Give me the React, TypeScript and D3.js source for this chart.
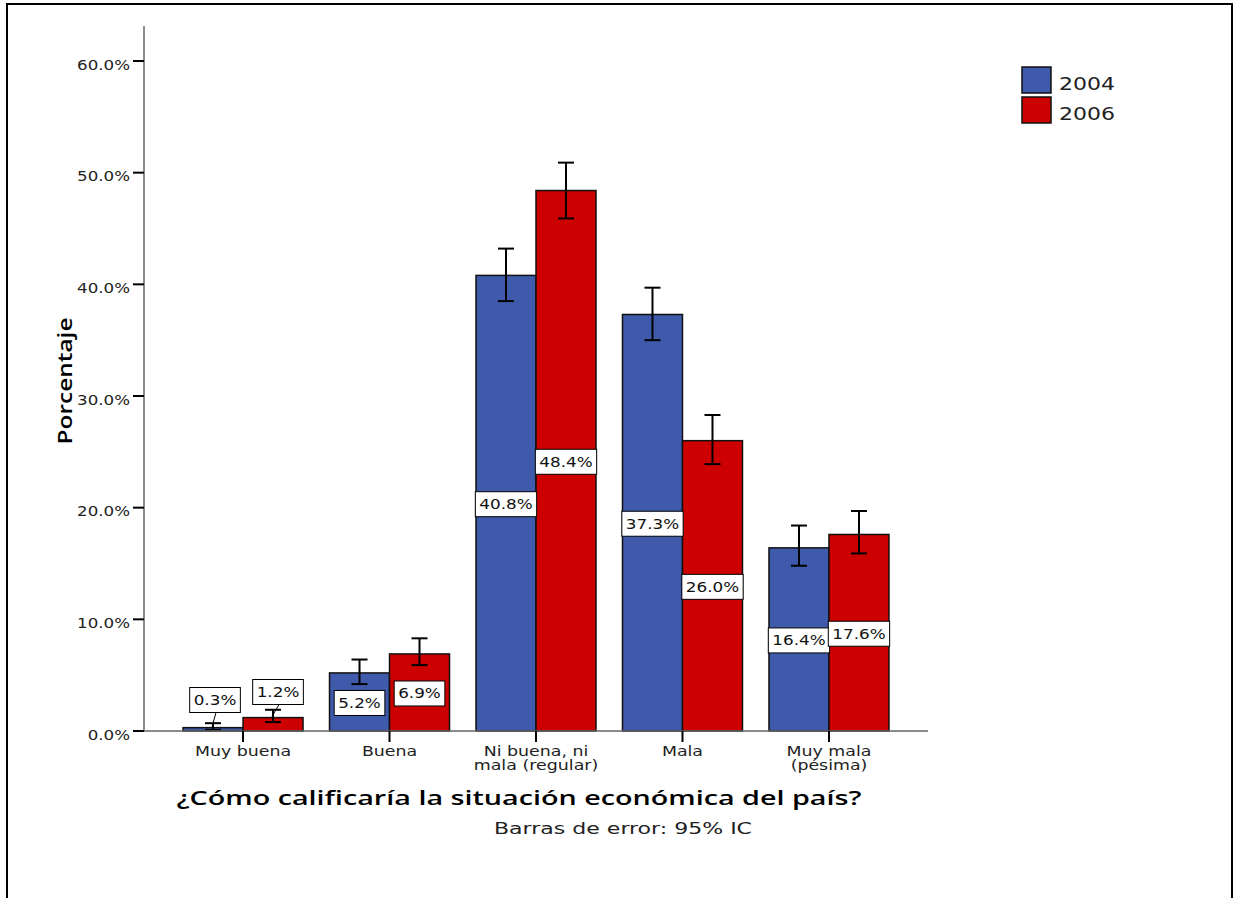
import React from "react";
import * as d3 from "d3";

const categories = ["Muy buena", "Buena", "Ni buena, ni\nmala (regular)", "Mala", "Muy mala\n(pésima)"];
const seriesNames = ["2004", "2006"];
const values2004 = [0.3, 5.2, 40.8, 37.3, 16.4];
const values2006 = [1.2, 6.9, 48.4, 26.0, 17.6];
const ciLow2004 = [0.1, 4.2, 38.5, 35.0, 14.8];
const ciHigh2004 = [0.7, 6.4, 43.2, 39.7, 18.4];
const ciLow2006 = [0.8, 5.9, 45.9, 23.9, 15.9];
const ciHigh2006 = [1.9, 8.3, 50.9, 28.3, 19.7];
const yTicks = [0, 10, 20, 30, 40, 50, 60];
const colors = ["#3F5AAB", "#CC0000"];

const FONT = "'DejaVu Sans', Verdana, sans-serif";
const TFONT = "'Open Sans', 'DejaVu Sans', sans-serif";

const CW: Record<string, number> = {
  ".": 0.318, "%": 0.95, ",": 0.318, " ": 0.318, "(": 0.39, ")": 0.39, "M": 0.863, "N": 0.748, "i": 0.278,
  "l": 0.278, "r": 0.411, "m": 0.974, "g": 0.635, "y": 0.592, "b": 0.635, "u": 0.634, "e": 0.615, "n": 0.634,
  "a": 0.613, "B": 0.686, "p": 0.635, "é": 0.615, "s": 0.521,
};
function textWidth(s: string, size: number) {
  let w = 0;
  for (const ch of s) w += CW[ch] ?? 0.636;
  return w * size;
}

export default function App() {
  const W = 1235, H = 898;
  const x0 = 144, x1 = 928, yTop = 26, yBase = 731;
  const y = d3.scaleLinear().domain([0, 60]).range([yBase, 61]);
  const xBand = d3.scaleBand<string>().domain(categories).range([x0, x1]).paddingInner(0).paddingOuter(0.176);
  const xSub = d3.scaleBand<string>().domain(seriesNames).range([-60, 60]);
  const series = [
    { name: "2004", vals: values2004, lo: ciLow2004, hi: ciHigh2004 },
    { name: "2006", vals: values2006, lo: ciLow2006, hi: ciHigh2006 },
  ];
  const center = (c: string) => (xBand(c) as number) + xBand.bandwidth() / 2;
  const LFS = 14, LSX = 1.2;

  return (
    <svg width={W} height={H} style={{ position: "absolute", left: 0, top: 0, background: "#fff" }} fontFamily={FONT}>
      <path d={`M7,${H} V4 H1232 V${H}`} fill="none" stroke="#000" strokeWidth={2} />

      {series.map((s, si) =>
        categories.map((c, i) => {
          const bx = center(c) + (xSub(s.name) as number);
          return (
            <rect key={s.name + i} x={bx} y={y(s.vals[i])} width={xSub.bandwidth()} height={yBase - y(s.vals[i])}
              fill={colors[si]} stroke="#111" strokeWidth={1.5} />
          );
        })
      )}

      {series.map((s, si) =>
        categories.map((c, i) => {
          const cx = center(c) + (xSub(s.name) as number) + xSub.bandwidth() / 2;
          const yl = y(s.lo[i]), yh = y(s.hi[i]);
          return (
            <g key={"e" + s.name + i} stroke="#000" strokeWidth={2}>
              <line x1={cx} x2={cx} y1={yl} y2={yh} />
              <line x1={cx - 8} x2={cx + 8} y1={yl} y2={yl} />
              <line x1={cx - 8} x2={cx + 8} y1={yh} y2={yh} />
            </g>
          );
        })
      )}

      <line x1={x0} x2={x0} y1={yTop} y2={yBase} stroke="#666" strokeWidth={1.5} />
      <line x1={x0} x2={x1} y1={yBase} y2={yBase} stroke="#666" strokeWidth={1.5} />
      {yTicks.map((t) => {
        const lab = t.toFixed(1) + "%";
        return (
          <g key={t}>
            <line x1={x0 - 11} x2={x0} y1={y(t)} y2={y(t)} stroke="#000" strokeWidth={2} />
            <text x={x0 - 14} y={y(t) + 8.5} textAnchor="end" fontSize={14.5} fill="#222"
              textLength={textWidth(lab, 14.5) * 1.15} lengthAdjust="spacingAndGlyphs">
              {lab}
            </text>
          </g>
        );
      })}
      {categories.map((c) => (
        <g key={c}>
          <line x1={center(c)} x2={center(c)} y1={yBase} y2={yBase + 11} stroke="#000" strokeWidth={2} />
          {c.split("\n").map((ln, li) => (
            <text key={li} x={center(c)} y={yBase + 25 + li * 14} textAnchor="middle" fontSize={14} fill="#222"
              textLength={textWidth(ln, 14) * 1.24} lengthAdjust="spacingAndGlyphs">
              {ln}
            </text>
          ))}
        </g>
      ))}

      {series.map((s, si) =>
        categories.map((c, i) => {
          const bcx = center(c) + (xSub(s.name) as number) + xSub.bandwidth() / 2;
          const v = s.vals[i];
          const label = v.toFixed(1) + "%";
          const small = v < 3;
          const tw = textWidth(label, LFS) * LSX;
          const bw = tw + 8, bh = 25;
          const lcx = small ? bcx + (si === 0 ? 2 : 5) : bcx;
          const lcy = small ? (si === 0 ? 700 : 692) : y(v / 2) + 1;
          return (
            <g key={"l" + s.name + i}>
              {small && (
                <line x1={lcx + 1} y1={lcy + bh / 2} x2={bcx - 1} y2={y(v) - 1} stroke="#000" strokeWidth={1} />
              )}
              <rect x={lcx - bw / 2} y={lcy - bh / 2} width={bw} height={bh} fill="#fff" stroke="#000" strokeWidth={1} />
              <text x={lcx} y={lcy + 5} textAnchor="middle" fontSize={LFS} fill="#111"
                textLength={tw} lengthAdjust="spacingAndGlyphs">
                {label}
              </text>
            </g>
          );
        })
      )}

      <text transform={`translate(72,381) rotate(-90)`} textAnchor="middle" fontFamily={TFONT} fontSize={19} fontWeight={600} fill="#000"
        textLength={127} lengthAdjust="spacingAndGlyphs">
        Porcentaje
      </text>
      <text x={519} y={805} textAnchor="middle" fontFamily={TFONT} fontSize={19} fontWeight={600} fill="#000"
        textLength={685} lengthAdjust="spacingAndGlyphs">
        ¿Cómo calificaría la situación económica del país?
      </text>
      <text x={623} y={834} textAnchor="middle" fontSize={16} fill="#222" textLength={258} lengthAdjust="spacingAndGlyphs">
        Barras de error: 95% IC
      </text>

      {seriesNames.map((n, i) => (
        <g key={n}>
          <rect x={1022} y={67 + i * 30} width={29} height={26} fill={colors[i]} stroke="#111" strokeWidth={1.5} />
          <text x={1059} y={90 + i * 30} fontSize={18} fill="#222" textLength={56} lengthAdjust="spacingAndGlyphs">{n}</text>
        </g>
      ))}
    </svg>
  );
}
